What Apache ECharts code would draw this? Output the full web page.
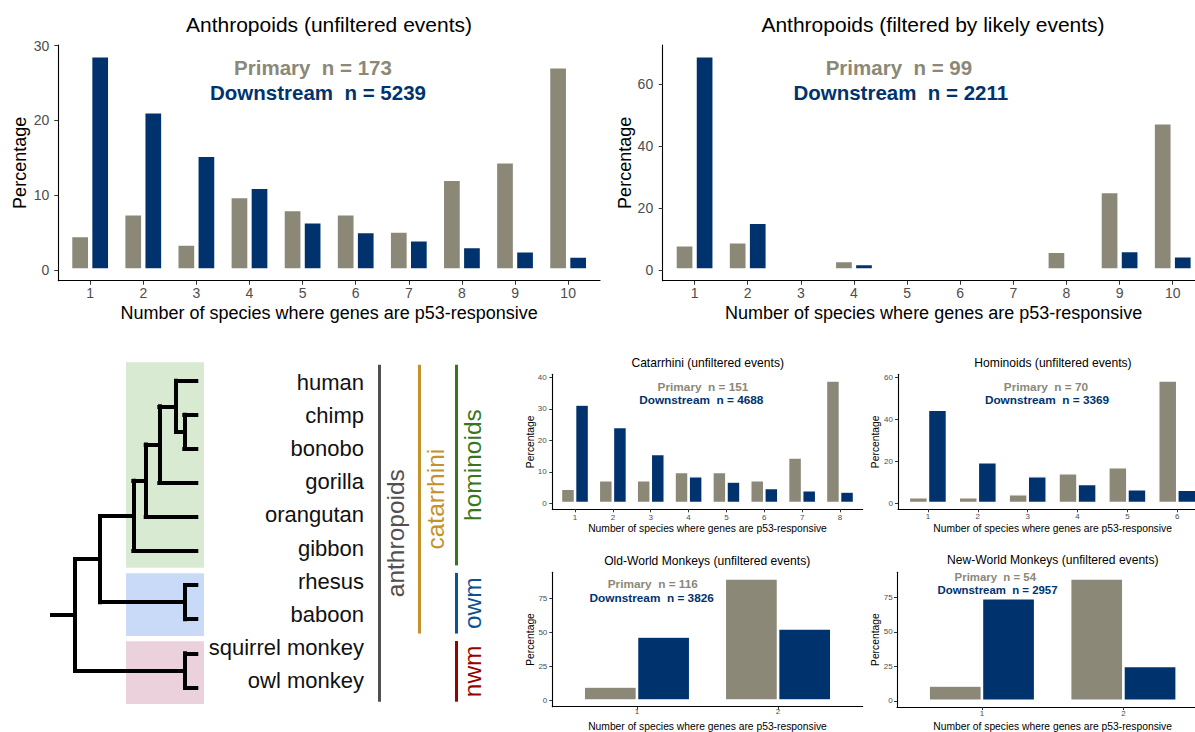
<!DOCTYPE html>
<html><head><meta charset="utf-8">
<script src="https://cdn.jsdelivr.net/npm/echarts@6/dist/echarts.min.js"></script>
<style>html,body{margin:0;padding:0;background:#fff}#c{width:1195px;height:732px}</style>
</head><body><div id="c"></div>
<script>
// ================= DATA =================
const xLabel = 'Number of species where genes are p53-responsive';
const yLabel = 'Percentage';
const panelTitles = ['Anthropoids (unfiltered events)', 'Anthropoids (filtered by likely events)',
  'Catarrhini (unfiltered events)', 'Hominoids (unfiltered events)',
  'Old-World Monkeys (unfiltered events)', 'New-World Monkeys (unfiltered events)'];
const nPrimary = [173, 99, 151, 70, 116, 54];
const nDownstream = [5239, 2211, 4688, 3369, 3826, 2957];

const speciesCounts10 = [1, 2, 3, 4, 5, 6, 7, 8, 9, 10];
const speciesCounts8 = [1, 2, 3, 4, 5, 6, 7, 8];
const speciesCounts6 = [1, 2, 3, 4, 5, 6];
const speciesCounts2 = [1, 2];

const anthroUnfPrimary = [4.62, 7.51, 3.47, 9.83, 8.09, 7.51, 5.20, 12.14, 14.45, 27.17];
const anthroUnfDownstream = [28.65, 21.15, 15.35, 11.05, 6.45, 5.15, 4.05, 3.15, 2.55, 1.85];
const anthroFiltPrimary = [8.08, 9.09, 0, 3.03, 0, 0, 0, 6.06, 25.25, 47.47];
const anthroFiltDownstream = [69.05, 15.35, 0, 2.05, 0, 0, 0, 0, 6.25, 4.55];
const catarrhiniPrimary = [4.64, 7.28, 7.28, 9.93, 9.93, 7.28, 14.57, 39.07];
const catarrhiniDownstream = [31.4, 24.3, 15.7, 8.6, 6.9, 4.85, 4.1, 3.7];
const hominoidsPrimary = [2.86, 2.86, 4.29, 14.29, 17.14, 58.57];
const hominoidsDownstream = [44.6, 19.6, 12.9, 9.2, 6.7, 6.4];
const owmPrimary = [10.34, 89.66];
const owmDownstream = [47.0, 53.0];
const nwmPrimary = [11.11, 88.89];
const nwmDownstream = [74.6, 25.4];

const yTicksAnthroUnf = [0, 10, 20, 30];
const yTicksAnthroFilt = [0, 20, 40, 60];
const yTicksCatarrhini = [0, 10, 20, 30, 40];
const yTicksHominoids = [0, 20, 40, 60];
const yTicksMonkeys = [0, 25, 50, 75];

const species = ['human', 'chimp', 'bonobo', 'gorilla', 'orangutan', 'gibbon', 'rhesus', 'baboon', 'squirrel monkey', 'owl monkey'];
// phylogeny (branch lengths)
const treeNewick = '((((((human:20.3,(chimp:12,bonobo:12):8.3):16.7,gorilla:37):13.6,orangutan:50.6):12.4,gibbon:63):33.3,(rhesus:11.3,baboon:11.3):85):25,(squirrel monkey:11.3,owl monkey:11.3):110):23;';
const cladeBoxes = [
  {name: 'hominoids', from: 0, to: 5, color: '#d9ead3'},
  {name: 'owm', from: 6, to: 7, color: '#c9daf8'},
  {name: 'nwm', from: 8, to: 9, color: '#ead1dc'}
];
const groupNames = ['anthropoids', 'catarrhini', 'hominoids', 'owm', 'nwm'];
const groupFrom = [0, 0, 0, 6, 8];
const groupTo = [9, 7, 5, 7, 9];
const groupColumn = [0, 1, 2, 2, 2];
const groupColors = ['#505050', '#c4922a', '#38761d', '#0b5394', '#990000'];

// ================= STYLE / LAYOUT =================
const FONT = "'Liberation Sans', Arial, Helvetica, sans-serif";
const GRAY = '#8b8878', NAVY = '#00336e';
const W = 1195, H = 732;

const panels = [
  {xs: speciesCounts10, p: anthroUnfPrimary, d: anthroUnfDownstream, yt: yTicksAnthroUnf},
  {xs: speciesCounts10, p: anthroFiltPrimary, d: anthroFiltDownstream, yt: yTicksAnthroFilt},
  {xs: speciesCounts8, p: catarrhiniPrimary, d: catarrhiniDownstream, yt: yTicksCatarrhini},
  {xs: speciesCounts6, p: hominoidsPrimary, d: hominoidsDownstream, yt: yTicksHominoids},
  {xs: speciesCounts2, p: owmPrimary, d: owmDownstream, yt: yTicksMonkeys},
  {xs: speciesCounts2, p: nwmPrimary, d: nwmDownstream, yt: yTicksMonkeys}
];
const layouts = [
  {left: 58.3, top: 45, rightX: 600, axisY: 280.7, title: [329, 24, 21], ann: [313, 67, 318, 92, 20.5],
   name: 18, tick: 14, barW: 19.1, border: 1.7, gap: '5%', xNameGap: 23.6, yNameGap: 29.3, xLM: 5.6, yLM: 9, tickLen: 4},
  {left: 662.7, top: 45, rightX: 1204.6, axisY: 280.7, title: [933, 24, 21], ann: [898.9, 67, 900.8, 92, 20.5],
   name: 18, tick: 14, barW: 19.1, border: 1.7, gap: '5%', xNameGap: 23.6, yNameGap: 28.7, xLM: 5.6, yLM: 9.5, tickLen: 4},
  {left: 552.3, top: 374.3, rightX: 862.7, axisY: 509.3, title: [707.7, 362.7, 12.1], ann: [703, 386.7, 701.3, 400, 11.8],
   name: 10.3, tick: 8, barW: 14.1, border: 1.3, gap: '0%', xNameGap: 14.5, yNameGap: 17.1, xLM: 4.4, yLM: 5.6, tickLen: 3},
  {left: 898, top: 374.3, rightX: 1207.2, axisY: 509.3, title: [1053, 362.7, 12.1], ann: [1046, 386.7, 1047, 400, 11.8],
   name: 10.3, tick: 8, barW: 19.1, border: 1.3, gap: '0%', xNameGap: 14.5, yNameGap: 17.1, xLM: 3.4, yLM: 5, tickLen: 3},
  {left: 552.3, top: 572.3, rightX: 862.7, axisY: 706.7, title: [707.2, 560.7, 12.1], ann: [652.8, 584.3, 651.7, 597.7, 11.8],
   name: 10.3, tick: 8, barW: 53.3, border: 1.3, gap: '0%', xNameGap: 14.85, yNameGap: 17.1, xLM: 0.8, yLM: 5, tickLen: 3},
  {left: 897, top: 572.3, rightX: 1208.3, axisY: 707, title: [1052.8, 560, 12.1], ann: [995.3, 577.2, 997.5, 589.6, 11.4],
   name: 10.3, tick: 8, barW: 53.3, border: 1.3, gap: '0%', xNameGap: 14.5, yNameGap: 16.5, xLM: 2.3, yLM: 4.4, tickLen: 3}
];

function txt(x, y, text, size, color, weight) {
  return {type: 'text', x: x, y: y, silent: true, z: 50,
    style: {text: text, fill: color, font: (weight || 'normal') + ' ' + size + 'px ' + FONT,
      align: 'center', verticalAlign: 'middle', textAlign: 'center', textVerticalAlign: 'middle'}};
}

const grids = [], xAxes = [], yAxes = [], series = [], graphics = [];

panels.forEach(function (P, i) {
  const L = layouts[i];
  grids.push({left: L.left, top: L.top, right: W - L.rightX, bottom: H - L.axisY, containLabel: false, outerBoundsMode: 'none'});
  const mx = Math.max.apply(null, P.p.concat(P.d));
  xAxes.push({type: 'value', gridIndex: i, min: P.xs[0] - 0.6, max: P.xs[P.xs.length - 1] + 0.6,
    axisLine: {onZero: false, lineStyle: {color: '#000', width: 1.1}},
    axisTick: {customValues: P.xs, length: L.tickLen, lineStyle: {color: '#333', width: 1}},
    axisLabel: {customValues: P.xs, margin: L.xLM, fontSize: L.tick, color: '#4d4d4d', fontFamily: FONT},
    splitLine: {show: false},
    name: xLabel, nameLocation: 'middle', nameGap: L.xNameGap, nameMoveOverlap: false,
    nameTextStyle: {fontSize: L.name, color: '#000', fontFamily: FONT}});
  yAxes.push({type: 'value', gridIndex: i, min: -0.05 * mx, max: 1.05 * mx,
    axisLine: {show: true, onZero: false, lineStyle: {color: '#000', width: 1.1}},
    axisTick: {show: true, customValues: P.yt, length: L.tickLen, lineStyle: {color: '#333', width: 1}},
    axisLabel: {customValues: P.yt, margin: L.yLM, fontSize: L.tick, color: '#4d4d4d', fontFamily: FONT},
    splitLine: {show: false},
    name: yLabel, nameLocation: 'middle', nameGap: L.yNameGap, nameMoveOverlap: false,
    nameTextStyle: {fontSize: L.name, color: '#000', fontFamily: FONT}});
  [[P.p, GRAY, 'Primary'], [P.d, NAVY, 'Downstream']].forEach(function (s) {
    series.push({type: 'bar', name: s[2], xAxisIndex: i, yAxisIndex: i,
      data: s[0].map(function (v, k) { return [P.xs[k], v]; }),
      barWidth: L.barW, barGap: L.gap, silent: true,
      itemStyle: {color: s[1], borderColor: '#ffffff', borderWidth: L.border}});
  });
  graphics.push(txt(L.title[0], L.title[1], panelTitles[i], L.title[2], '#000'));
  graphics.push(txt(L.ann[0], L.ann[1], 'Primary  n = ' + nPrimary[i], L.ann[4], GRAY, 'bold'));
  graphics.push(txt(L.ann[2], L.ann[3], 'Downstream  n = ' + nDownstream[i], L.ann[4], NAVY, 'bold'));
});

// ---------- tree ----------
function parseNewick(s) {
  let i = 0;
  function node() {
    const n = {children: [], name: '', len: 0};
    if (s[i] === '(') {
      i++;
      n.children.push(node());
      while (s[i] === ',') { i++; n.children.push(node()); }
      i++;
    }
    let name = '';
    while (i < s.length && ':,);'.indexOf(s[i]) < 0) name += s[i++];
    n.name = name.trim();
    if (s[i] === ':') {
      i++;
      let num = '';
      while (i < s.length && ',);'.indexOf(s[i]) < 0) num += s[i++];
      n.len = parseFloat(num);
    }
    return n;
  }
  return node();
}
const tree = parseNewick(treeNewick);
const edges = [];
let tipRow = 0;
(function layout(n, parentDepth) {
  n.depth = parentDepth + n.len;
  if (!n.children.length) { n.y = tipRow++; }
  else {
    n.children.forEach(function (c) { layout(c, n.depth); });
    const y0 = n.children[0].y, y1 = n.children[n.children.length - 1].y;
    n.y = (y0 + y1) / 2;
    edges.push([[n.depth, y0], [n.depth, y1]]);
  }
  edges.push([[parentDepth, n.y], [n.depth, n.y]]);
})(tree, 0);

const TG = 6; // tree grid index
grids.push({left: 52, top: 363.7, width: 450, height: 340.7, containLabel: false, outerBoundsMode: 'none'});
xAxes.push({type: 'value', gridIndex: TG, min: 0, max: 450, show: false});
yAxes.push({type: 'value', gridIndex: TG, min: -0.5, max: 9.5, inverse: true, show: false});

const boxX0 = 74, boxX1 = 152;
series.push({type: 'custom', xAxisIndex: TG, yAxisIndex: TG, silent: true, z: 1,
  data: cladeBoxes.map(function (b) {
    return {value: [boxX0, b.from - 0.5 + (b.from > 0 ? 0.15 : -0.04), boxX1, b.to + 0.49], itemStyle: {color: b.color}};
  }),
  renderItem: function (params, api) {
    const p0 = api.coord([api.value(0), api.value(1)]);
    const p1 = api.coord([api.value(2), api.value(3)]);
    return {type: 'rect', shape: {x: p0[0], y: p0[1], width: p1[0] - p0[0], height: p1[1] - p0[1]},
      style: {fill: api.visual('color')}};
  }});
series.push({type: 'lines', coordinateSystem: 'cartesian2d', xAxisIndex: TG, yAxisIndex: TG, silent: true, z: 5,
  polyline: false, data: edges.map(function (e) { return {coords: e}; }),
  lineStyle: {color: '#000', width: 4, opacity: 1, cap: 'square', join: 'miter'}});

const groupColX = [327, 367, 404];
series.push({type: 'lines', coordinateSystem: 'cartesian2d', xAxisIndex: TG, yAxisIndex: TG, silent: true, z: 5,
  polyline: false,
  data: groupNames.map(function (g, k) {
    const top = groupFrom[k] === 0 ? -0.47 : groupFrom[k] - 0.36;
    const bot = groupTo[k] + 0.42;
    const x = groupColX[groupColumn[k]];
    return {coords: [[x, top], [x, bot]], lineStyle: {color: groupColors[k]}};
  }),
  lineStyle: {width: 3, opacity: 1}});
series.push({type: 'scatter', xAxisIndex: TG, yAxisIndex: TG, silent: true, z: 6,
  symbol: 'circle', symbolSize: 0,
  itemStyle: {opacity: 1},
  data: groupNames.map(function (g, k) {
    const top = groupFrom[k] === 0 ? -0.47 : groupFrom[k] - 0.36;
    const bot = groupTo[k] + 0.42;
    return {name: g, value: [groupColX[groupColumn[k]] + 16.5, (top + bot) / 2],
      label: {color: groupColors[k]}};
  }),
  label: {show: true, position: 'inside', rotate: 90, formatter: '{b}', fontSize: 24.5, fontFamily: FONT,
    align: 'center', verticalAlign: 'middle', textBorderWidth: 0, textBorderColor: 'transparent',
    textShadowBlur: 0, opacity: 1}});

// species labels on a category axis
const SG = 7;
grids.push({left: 372, top: 365.8, width: 10, height: 331.4, containLabel: false, outerBoundsMode: 'none'});
xAxes.push({type: 'value', gridIndex: SG, show: false});
yAxes.push({type: 'category', gridIndex: SG, data: species, inverse: true,
  axisLine: {show: false}, axisTick: {show: false}, splitLine: {show: false},
  axisLabel: {interval: 0, margin: 8, fontSize: 22, color: '#111', fontFamily: FONT}});

const chart = echarts.init(document.getElementById('c'), null, {renderer: 'svg', width: W, height: H});
chart.setOption({
  backgroundColor: '#ffffff',
  animation: false,
  grid: grids, xAxis: xAxes, yAxis: yAxes, series: series,
  graphic: {elements: graphics}
});
</script></body></html>
